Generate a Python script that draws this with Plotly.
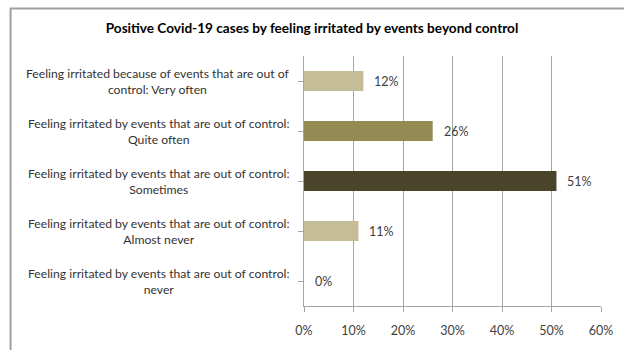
import plotly.graph_objects as go

categories = [
    "Feeling irritated because of events that are out of<br>control: Very often",
    "Feeling irritated by events that are out of control:<br>Quite often",
    "Feeling irritated by events that are out of control:<br>Sometimes",
    "Feeling irritated by events that are out of control:<br>Almost never",
    "Feeling irritated by events that are out of control:<br>never",
]
values = [12, 26, 51, 11, 0]
value_labels = ["12%", "26%", "51%", "11%", "0%"]
colors = ["#C4BD97", "#948A54", "#4A452A", "#C4BD97", "#C4BD97"]
x_ticks = [0, 10, 20, 30, 40, 50, 60]
x_tick_labels = ["0%", "10%", "20%", "30%", "40%", "50%", "60%"]
title = "Positive Covid-19 cases by feeling irritated by events beyond control"

FONT = "Lato"
ids = list(range(len(categories)))

fig = go.Figure(go.Bar(
    x=values, y=ids, orientation="h",
    marker=dict(color=colors, line=dict(width=0)),
    width=0.4, hoverinfo="skip",
))

annotations = []
for i, (v, lab) in enumerate(zip(values, value_labels)):
    annotations.append(dict(x=v, y=i, xref="x", yref="y", text=lab, showarrow=False,
                            xanchor="left", xshift=9, font=dict(family=FONT, size=12.5, color="#404040")))
for i, c in enumerate(categories):
    annotations.append(dict(x=-0.49, y=i, xref="paper", yref="y", text=c, showarrow=False,
                            xanchor="center", align="center",
                            font=dict(family=FONT, size=12.2, color="#333333")))

fig.update_layout(
    width=624, height=350,
    margin=dict(l=304, r=23, t=56, b=44),
    paper_bgcolor="white", plot_bgcolor="white",
    showlegend=False,
    title=dict(text="<b>" + title + "</b>", x=0.5, xanchor="center", y=0.92, yanchor="middle",
               font=dict(family=FONT, size=13.6, color="#000000")),
    xaxis=dict(range=[0, 60], tickvals=x_ticks, ticktext=x_tick_labels,
               showgrid=True, gridcolor="#A6A6A6", gridwidth=1,
               showline=True, linecolor="#A6A6A6", ticks="outside", ticklen=5,
               tickcolor="#A6A6A6", zeroline=False, ticklabelstandoff=8,
               tickfont=dict(family=FONT, size=12.5, color="#404040"), fixedrange=True),
    yaxis=dict(range=[4.5, -0.5], tickvals=ids, showticklabels=False,
               showgrid=False, showline=True, linecolor="#A6A6A6",
               ticks="outside", ticklen=5, tickcolor="#A6A6A6", tickson="boundaries",
               zeroline=False, fixedrange=True),
    annotations=annotations,
    shapes=[dict(type="path", xref="paper", yref="paper",
                 path="M -0.988,-0.25 L -0.988,1.19 L 1.1,1.19",
                 line=dict(color="#A0A0A0", width=2))],
)

fig.write_html("out.html")
